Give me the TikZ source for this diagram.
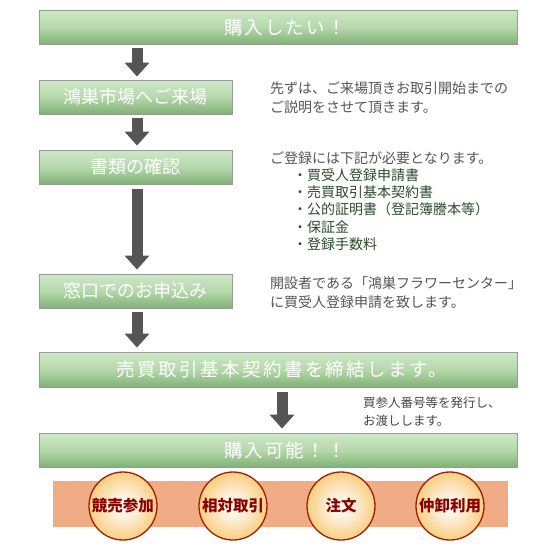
\documentclass[tikz,border=0pt]{standalone}
\usepackage{fontspec}
\newfontfamily\jp{Noto Sans CJK JP}
\usetikzlibrary{arrows.meta}
\definecolor{barborder}{RGB}{150,155,150}
\definecolor{bartop}{RGB}{205,232,198}
\definecolor{barmid}{RGB}{182,216,172}
\definecolor{barbot}{RGB}{128,178,118}
\definecolor{arrowgray}{RGB}{85,85,85}
\definecolor{textgray}{RGB}{85,85,85}
\definecolor{textdark}{RGB}{70,70,70}
\definecolor{itemgreen}{RGB}{45,75,45}
\definecolor{bandorange}{RGB}{240,172,132}
\definecolor{ringred}{RGB}{160,30,0}
\definecolor{labelred}{RGB}{140,0,0}
\definecolor{orangeA}{RGB}{252,238,214}
\definecolor{orangeB}{RGB}{249,196,100}
\definecolor{orangeC}{RGB}{243,154,16}
\pgfdeclareradialshading{ballorange}{\pgfpoint{0bp}{0bp}}{%
  color(0bp)=(white); color(10bp)=(orangeA); color(30bp)=(orangeB);
  color(48bp)=(orangeC); color(50bp)=(orangeC)}
\tikzset{
  bar/.style={draw=barborder, line width=0.8pt, top color=bartop,
    bottom color=barbot, middle color=barmid, inner sep=0pt,
    text=white, font=\jp\fontsize{18}{18}\selectfont},
  widebar/.style={bar, minimum width=478pt,
    font=\jp\fontsize{18.5}{18.5}\selectfont\addfontfeature{LetterSpace=11}},
  bigarrow/.style={draw=arrowgray, line width=11pt,
    -{Triangle[width=24pt,length=14pt]}},
  side/.style={inner sep=0pt, align=left, text=textgray,
    font=\jp\fontsize{14}{19}\selectfont},
  ball/.style={circle, draw=ringred, line width=1.3pt, shading=ballorange,
    minimum size=68pt, inner sep=0pt, text=labelred,
    font=\jp\bfseries\fontsize{15.5}{16}\selectfont}
}
\begin{document}
\begin{tikzpicture}[x=1pt,y=-1pt]
\useasboundingbox[fill=white] (0,0) rectangle (540,550);
% bars
\node[widebar, minimum height=34pt] (b1) at (278,27) {\hspace*{14pt}購入したい！};
\node[bar, minimum width=193pt, minimum height=34pt] (b2) at (135.5,97) {鴻巣市場へご来場};
\node[bar, minimum width=193pt, minimum height=34pt] (b3) at (135.5,167) {書類の確認};
\node[bar, minimum width=193pt, minimum height=34pt] (b4) at (135.5,291) {窓口でのお申込み};
\node[widebar, minimum height=35pt] (b5) at (278,369.5)
  {\addfontfeature{LetterSpace=13}\hspace*{8pt}売買取引基本契約書を締結します。};
\node[widebar, minimum height=34pt] (b6) at (278,450) {\hspace*{14pt}購入可能！！};
% arrows
\coordinate (ax) at (137,0);
\coordinate (bx) at (282,0);
\draw[bigarrow, shorten <=4pt, shorten >=3pt] (b1.south -| ax) -- (b2.north -| ax);
\draw[bigarrow, shorten <=4pt, shorten >=4pt] (b2.south -| ax) -- (b3.north -| ax);
\draw[bigarrow, shorten <=5pt, shorten >=4pt] (b3.south -| ax) -- (b4.north -| ax);
\draw[bigarrow, shorten <=4pt, shorten >=4pt] (b4.south -| ax) -- (b5.north -| ax);
\draw[bigarrow, shorten <=5pt, shorten >=4pt] (b5.south -| bx) -- (b6.north -| bx);
% side texts
\node[side, anchor=west] (t2) at (270,97.5) {先ずは、ご来場頂きお取引開始までの\\ご説明をさせて頂きます。};
\node[side, anchor=west, text=itemgreen, font=\jp\fontsize{14}{17.2}\selectfont] (t3) at (270,201)
  {{\color{textgray}ご登録には下記が必要となります。}\\
   \hspace*{23pt}・買受人登録申請書\\
   \hspace*{23pt}・売買取引基本契約書\\
   \hspace*{23pt}・公的証明書（登記簿謄本等）\\
   \hspace*{23pt}・保証金\\
   \hspace*{23pt}・登録手数料};
\node[side, anchor=west] (t4) at (270,293) {開設者である「鴻巣フラワーセンター」\\に買受人登録申請を致します。};
\node[side, anchor=west, text=textdark, font=\jp\fontsize{12.5}{18}\selectfont] (t5) at (363,412)
  {買参人番号等を発行し、\\お渡しします。};
% band and circles
\fill[bandorange] (53,481) rectangle (508,527);
\node[ball] (c1) at (123,506) {競売参加};
\node[ball] (c2) at (233,506) {相対取引};
\node[ball] (c3) at (341,506) {注文};
\node[ball] (c4) at (450,506) {仲卸利用};
\end{tikzpicture}
\end{document}
